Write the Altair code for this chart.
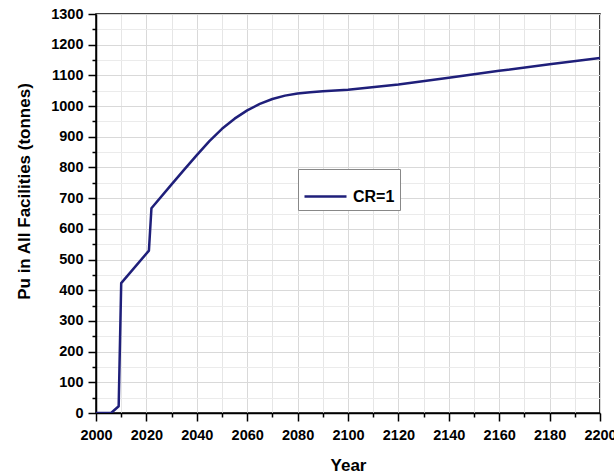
import altair as alt
import pandas as pd

years = [2000, 2006, 2009, 2010, 2021, 2022, 2030, 2035, 2040, 2045, 2050, 2055, 2060,
         2065, 2070, 2075, 2080, 2085, 2090, 2100, 2120, 2140, 2160, 2180, 2200]
pu = [0, 0, 22, 423, 529, 667, 745, 793, 840, 886, 926, 959, 986,
      1007, 1023, 1034, 1041, 1045, 1048, 1053, 1070, 1092, 1115, 1136, 1157]
series = ["CR=1"] * len(years)

x_major = list(range(2000, 2201, 20))
x_minor = list(range(2010, 2200, 20))
y_major = list(range(0, 1301, 100))
y_minor = list(range(50, 1300, 100))

df = pd.DataFrame({"Year": years, "Pu": pu, "Series": series})

FONT = "Liberation Sans"
xs = alt.Scale(domain=[2000, 2200], nice=False, zero=False)
ys = alt.Scale(domain=[0, 1300], nice=False)

main = alt.Chart(df).mark_line(strokeWidth=2.5, clip=True, strokeJoin="round").encode(
    x=alt.X("Year:Q", scale=xs,
            axis=alt.Axis(orient="bottom", values=x_major, format="d", title="Year",
                          tickSize=8, tickWidth=1.5, labelPadding=7,
                          labelFontSize=14.5, labelFontWeight="bold", labelFont=FONT,
                          labelColor="black", titleFontSize=17, titleFontWeight="bold",
                          titleFont=FONT, titleColor="black", titleY=57,
                          titleBaseline="alphabetic", grid=True, gridColor="#d9d9d9",
                          gridWidth=1, domainColor="black", domainWidth=1.5,
                          tickColor="black", labelFlush=False)),
    y=alt.Y("Pu:Q", scale=ys,
            axis=alt.Axis(orient="left", values=y_major, format="d",
                          title="Pu in All Facilities (tonnes)",
                          tickSize=8, tickWidth=1.5, labelPadding=5,
                          labelFontSize=14.5, labelFontWeight="bold", labelFont=FONT,
                          labelColor="black", titleFontSize=17, titleFontWeight="bold",
                          titleFont=FONT, titleColor="black", titleX=-72, titleY=177,
                          titleAngle=270, titleAlign="center", titleBaseline="middle",
                          grid=True, gridColor="#d9d9d9", gridWidth=1,
                          domainColor="black", domainWidth=1.5, tickColor="black",
                          labelFlush=False)),
    color=alt.Color("Series:N", scale=alt.Scale(range=["#1f1f7a"]),
                    legend=alt.Legend(title=None, orient="none", legendX=202, legendY=155,
                                      symbolType="stroke", symbolSize=1764,
                                      symbolStrokeWidth=2.5, labelFontSize=16,
                                      labelFontWeight="bold", labelFont=FONT,
                                      labelColor="black", padding=5, strokeColor="#888888",
                                      fillColor="white", labelOffset=5)),
)

minor = alt.Chart(df).mark_line(opacity=0).encode(
    x=alt.X("Year:Q", scale=xs,
            axis=alt.Axis(orient="bottom", values=x_minor, labels=False, title=None,
                          tickSize=4, tickWidth=1.5, tickColor="black", domain=False,
                          grid=True, gridColor="#e6e6e6", gridWidth=1)),
    y=alt.Y("Pu:Q", scale=ys,
            axis=alt.Axis(orient="left", values=y_minor, labels=False, title=None,
                          tickSize=4, tickWidth=1.5, tickColor="black", domain=False,
                          grid=True, gridColor="#ebebeb", gridWidth=1)),
)

chart = alt.layer(minor, main).resolve_axis(x="independent", y="independent").properties(
    width=504, height=399,
    autosize=alt.AutoSizeParams(type="none"),
    padding={"left": 96, "top": 14, "right": 14, "bottom": 63},
    background="white",
).configure_view(stroke="black", strokeWidth=1.5)

chart.save("out.html", embed_options={"renderer": "svg", "actions": False})
